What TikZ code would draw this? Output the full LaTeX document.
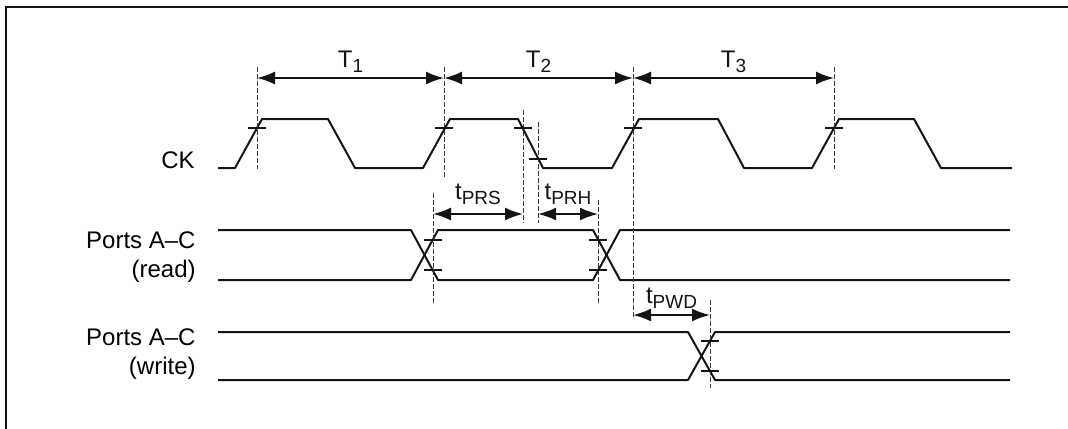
\documentclass[tikz,border=0pt]{standalone}
\usepackage{fontspec}
\setmainfont{Liberation Sans}
\usetikzlibrary{arrows.meta}
\definecolor{tinte}{HTML}{141414}
\definecolor{hgrau}{HTML}{3A3A3A}
\tikzset{
  sig/.style={tinte,line width=1pt,line join=round},
  mass/.style={{Latex[length=9pt,width=6.5pt]}-{Latex[length=9pt,width=6.5pt]},tinte,line width=1pt},
  hilf/.style={hgrau,line width=0.4pt,dash pattern=on 2.5pt off 1pt},
  strich/.style={tinte,line width=1pt},
  rahmen/.style={tinte,line width=1pt},
  lab/.style={font=\fontsize{12}{14.5}\selectfont,inner sep=0pt},
}
\newcommand{\strichbei}[1]{\draw[strich] ([xshift=-4.5pt]#1) -- ([xshift=4.5pt]#1);}
\newcommand{\unten}[1]{\raisebox{-2.5pt}{\fontsize{9.5}{10}\selectfont #1}}
\newcommand{\tzeit}[1]{t\unten{#1}}

\begin{document}
\begin{tikzpicture}[x=0.5pt,y=-0.5pt]
  \useasboundingbox (0,0) rectangle (1068,428);
  \draw[rahmen] (6,7) rectangle (1090,450);

  % signal names
  \node[lab,anchor=base east] (nck) at (195,168) {CK};
  \node[lab,anchor=east,align=right] (nrd) at (196,257) {Ports A--C\\(read)};
  \node[lab,anchor=east,align=right] (nwr) at (196,354) {Ports A--C\\(write)};

  % clock
  \draw[sig] (218,168) -- (235,168) -- (262,119) -- (328,119) -- (355,168) -- (423,168)
    -- (450,119) -- (518,119) -- (543,168) -- (612,168) -- (639,119) -- (718,119)
    -- (744,168) -- (812,168) -- (839,119) -- (914,119) -- (941,168) -- (1012,168);

  % ports, read
  \draw[sig] (218,230) -- (411,230) -- (438,280) -- (593,280) -- (620,230) -- (1010,230);
  \draw[sig] (218,280) -- (411,280) -- (438,230) -- (593,230) -- (620,280) -- (1010,280);

  % ports, write
  \draw[sig] (218,332) -- (688,332) -- (715,380) -- (1010,380);
  \draw[sig] (218,380) -- (688,380) -- (715,332) -- (1010,332);

  % guide lines
  \draw[hilf] (257,67) -- (257,169);
  \draw[hilf] (444,67) -- (444,177);
  \draw[hilf] (633,67) -- (633,318);
  \draw[hilf] (834,67) -- (834,169);
  \draw[hilf] (523,110) -- (523,223);
  \draw[hilf] (538,122) -- (538,223);
  \draw[hilf] (433,193) -- (433,303);
  \draw[hilf] (598,200) -- (598,303);
  \draw[hilf] (710,300) -- (710,388);

  % timing points
  \coordinate (e1) at (257,128);
  \coordinate (e2) at (444,128);
  \coordinate (e3) at (633,128);
  \coordinate (e4) at (834,128);
  \coordinate (f1) at (523,128);
  \coordinate (f2) at (538,159);
  \coordinate (r1) at (433,240);
  \coordinate (r2) at (433,270);
  \coordinate (r3) at (598,240);
  \coordinate (r4) at (598,270);
  \coordinate (w1) at (710,341);
  \coordinate (w2) at (710,371);
  \strichbei{e1} \strichbei{e2} \strichbei{e3} \strichbei{e4}
  \strichbei{f1} \strichbei{f2}
  \strichbei{r1} \strichbei{r2} \strichbei{r3} \strichbei{r4}
  \strichbei{w1} \strichbei{w2}

  % cycles
  \coordinate (c0) at (257,78);
  \coordinate (c1) at (444,78);
  \coordinate (c2) at (633,78);
  \coordinate (c3) at (834,78);
  \draw[mass] (c0) -- node[lab,midway,anchor=base,yshift=5.5pt] (lt1) {T\unten{1}} (c1);
  \draw[mass] (c1) -- node[lab,midway,anchor=base,yshift=5.5pt] (lt2) {T\unten{2}} (c2);
  \draw[mass] (c2) -- node[lab,midway,anchor=base,yshift=5.5pt] (lt3) {T\unten{3}} (c3);

  % setup, hold, delay
  \coordinate (s0) at (433,214);
  \coordinate (s1) at (523,214);
  \coordinate (h0) at (538,214);
  \coordinate (h1) at (598,214);
  \coordinate (d0) at (633,315);
  \coordinate (d1) at (710,315);
  \draw[mass] (s0) -- node[lab,midway,anchor=base,yshift=7.5pt] (lprs) {\tzeit{PRS}} (s1);
  \draw[mass] (h0) -- node[lab,midway,anchor=base,yshift=7.5pt] (lprh) {\tzeit{PRH}} (h1);
  \draw[mass] (d0) -- node[lab,midway,anchor=base,yshift=6pt] (lpwd) {\tzeit{PWD}} (d1);
\end{tikzpicture}
\end{document}
